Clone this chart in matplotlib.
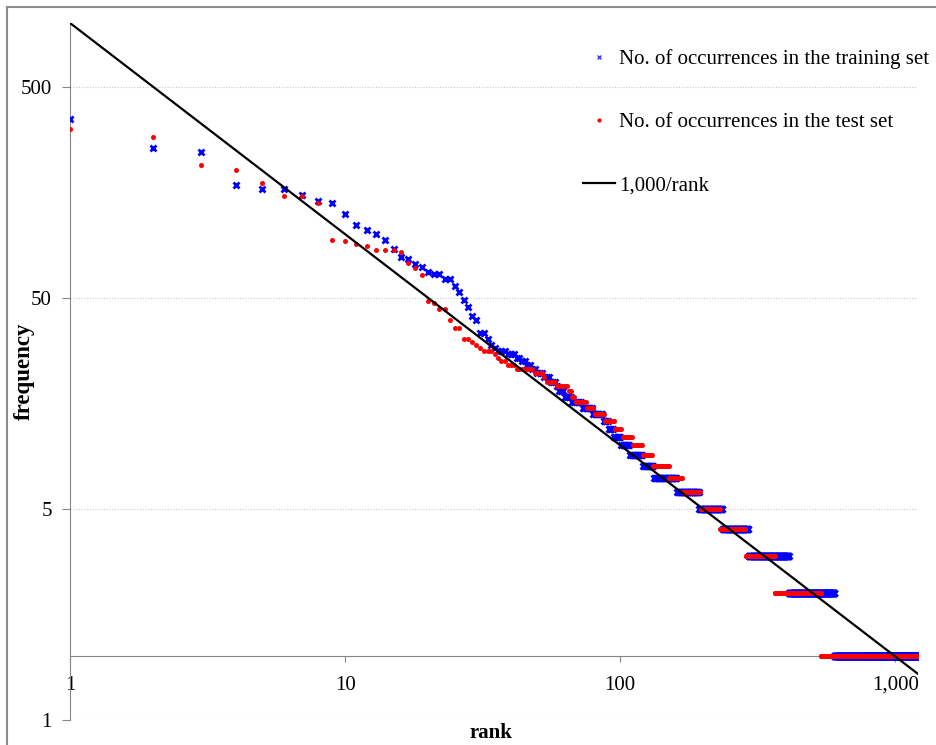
import numpy as np
import matplotlib
matplotlib.use("Agg")
import matplotlib.pyplot as plt
from matplotlib.lines import Line2D
from matplotlib.patches import Rectangle

plt.rcParams['font.family'] = ['Liberation Serif', 'DejaVu Serif']

# training set: first 30 ranks read one by one, then runs of (frequency, last rank)
train_head = [350, 257, 245, 171, 164, 164, 153, 143, 140, 124, 110, 105, 100, 94, 85,
              78, 76, 72, 70, 66, 65, 65, 61, 61, 57, 53, 49, 45, 41, 39]
train_run_freq = [34, 32, 30, 29, 28, 27, 26, 25, 24, 23, 22, 21, 20, 19, 18, 17, 16,
                  15, 14, 13, 12, 11, 10, 9, 8, 7, 6, 5, 4, 3, 2, 1]
train_run_last = [32, 33, 34, 35, 38, 41, 43, 45, 47, 49, 52, 55, 58, 59, 62, 66, 72,
                  79, 86, 90, 94, 100, 108, 120, 132, 160, 193, 235, 292, 410, 600, 1210]

# test set
test_head = [315, 289, 212, 201, 175, 151, 151, 140, 94, 93, 90, 88, 84, 84, 84,
             82, 73, 69, 64, 48, 47, 44, 44, 39, 36, 36, 32, 32, 31, 30, 29]
test_run_freq = [28, 27, 26, 25, 24, 23, 22, 21, 20, 19, 18, 17, 16, 15, 14, 13, 12,
                 11, 10, 9, 8, 7, 6, 5, 4, 3, 2, 1]
test_run_last = [34, 35, 36, 38, 41, 48, 52, 53, 58, 64, 66, 68, 75, 80, 87, 95, 101,
                 110, 120, 131, 150, 168, 195, 230, 285, 365, 537, 1210]

max_rank = 1210
y_ticks = [0.5, 5, 50, 500]
y_labels = ['1', '5', '50', '500']
x_ticks = [1, 10, 100, 1000]
x_labels = ['1', '10', '100', '1,000']


def expand(head, run_freq, run_last):
    counts = np.diff([len(head)] + list(run_last))
    freq = np.concatenate([head, np.repeat(run_freq, counts)])
    return np.arange(1, len(freq) + 1), freq


tr_rank, tr_freq = expand(train_head, train_run_freq, train_run_last)
te_rank, te_freq = expand(test_head, test_run_freq, test_run_last)

W, H = 936, 745
fig = plt.figure(figsize=(W / 100, H / 100), dpi=100)
fig.patches.append(Rectangle((7 / W, -0.1), 1.2, 1 - 7 / H + 0.1, transform=fig.transFigure,
                             fill=False, edgecolor='#8c8c8c', linewidth=1.5))
ax = fig.add_axes([70 / W, 25 / H, 848 / W, 697 / H])
ax.set_xscale('log')
ax.set_yscale('log')
ax.set_xlim(1, max_rank)
ax.set_ylim(0.5, 1000)

ax.plot(tr_rank, tr_freq, linestyle='none', marker='x', ms=4.8, mew=2, color='#0000ff', zorder=3)
ax.plot(te_rank, te_freq, linestyle='none', marker='o', ms=3.6, mew=0, color='#ff0000', zorder=4)
line_x = np.array([1, max_rank])
ax.plot(line_x, 1000 / line_x, color='black', lw=1.6, zorder=5)

ax.set_yticks(y_ticks)
ax.set_yticklabels(y_labels)
ax.set_xticks(x_ticks)
ax.set_xticklabels(x_labels)
ax.minorticks_off()
ax.yaxis.grid(True, linestyle=(0, (1, 1.5)), color='#c8c8c8', lw=0.8)
ax.set_axisbelow(True)

for s in ['top', 'right']:
    ax.spines[s].set_visible(False)
ax.spines['left'].set_color('#868686')
ax.spines['bottom'].set_color('#868686')
ax.spines['bottom'].set_position(('data', 1))
ax.tick_params(axis='y', direction='out', length=6, color='#868686', pad=7, labelsize=15)
ax.tick_params(axis='x', direction='out', length=4, color='#868686', pad=10, labelsize=15)

ax.set_xlabel('rank', fontsize=15, fontweight='bold', va='center')
ax.xaxis.set_label_coords(0.496, -0.0187)
ax.set_ylabel('frequency', fontsize=16.5, fontweight='bold', va='center')
ax.yaxis.set_label_coords(-0.054, 0.5)

handles = [
    Line2D([], [], linestyle='none', marker='x', ms=3.5, mew=1, color='#4040ff'),
    Line2D([], [], linestyle='none', marker='o', ms=3, mew=0, color='#ff0000'),
    Line2D([], [], color='black', lw=1.6),
]
ax.legend(handles, ['No. of occurrences in the training set',
                    'No. of occurrences in the test set', '1,000/rank'],
          loc='upper left', bbox_to_anchor=(583 / W, 1 - 49 / H), bbox_transform=fig.transFigure,
          frameon=False, fontsize=15, handlelength=1.55, handletextpad=0.2,
          labelspacing=2.1, borderpad=0, borderaxespad=0)

fig.savefig('out.png', dpi=100)
